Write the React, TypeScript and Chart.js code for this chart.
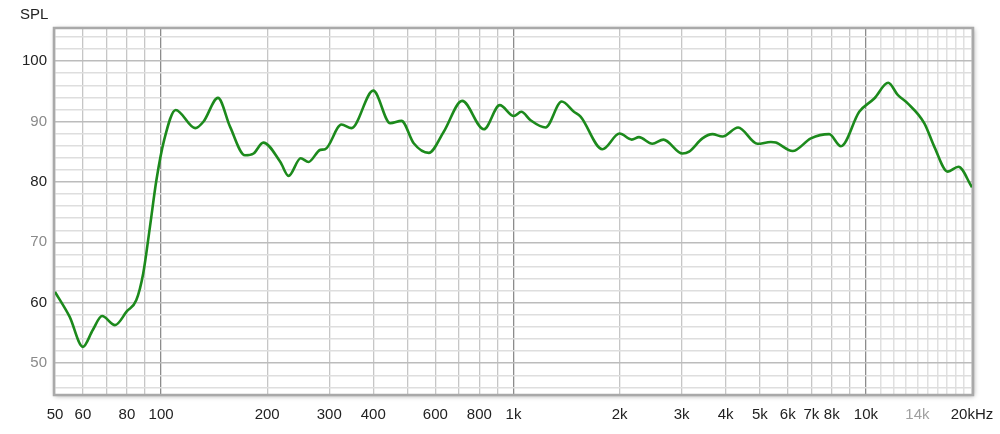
import { useRef, useEffect } from 'react';
import { Chart, registerables } from 'chart.js';

Chart.register(...registerables);

// frequency response points (Hz / dB SPL)
const freqs = [
  50, 55, 60, 64, 68, 74, 80, 85, 89, 93, 97, 102, 110, 125, 132, 145, 157,
  173, 183, 195, 218, 230, 249, 262, 283, 292, 325, 347, 400, 447, 481, 521,
  575, 634, 715, 824, 914, 1002, 1052, 1118, 1233, 1370, 1484, 1550, 1787,
  2000, 2165, 2270, 2477, 2663, 3015, 3150, 3436, 3670, 3917, 4340, 4925,
  5372, 5551, 6194, 6979, 7866, 8495, 9574, 10560, 11570, 12310, 13140,
  14650, 15640, 17070, 18300, 20000,
];
const spl = [
  61.8, 57.7, 52.7, 55.5, 57.8, 56.3, 58.6, 60.4, 64.9, 72.6, 80.3, 86.9,
  91.9, 88.9, 90.0, 93.9, 89.1, 84.4, 84.7, 86.5, 83.3, 81.0, 83.9, 83.3,
  85.3, 85.4, 89.5, 88.9, 95.1, 89.7, 90.1, 86.4, 84.8, 88.3, 93.4, 88.7,
  92.7, 90.9, 91.6, 90.2, 89.0, 93.3, 91.6, 90.8, 85.4, 88.0, 87.0, 87.4,
  86.3, 87.0, 84.7, 85.0, 87.2, 87.9, 87.5, 89.0, 86.3, 86.6, 86.5, 85.1,
  87.2, 87.9, 85.9, 91.6, 93.8, 96.4, 94.4, 93.0, 89.7, 85.8, 81.7, 82.5,
  79.1,
];

// grid lines on the frequency axis
const xGrid = [
  50, 60, 70, 80, 90, 100, 200, 300, 400, 500, 600, 700, 800, 900, 1000,
  2000, 3000, 4000, 5000, 6000, 7000, 8000, 9000, 10000, 11000, 12000,
  13000, 14000, 15000, 16000, 17000, 18000, 19000, 20000,
];
const xLabels: Record<number, string> = {
  50: '50', 60: '60', 80: '80', 100: '100', 200: '200', 300: '300',
  400: '400', 600: '600', 800: '800', 1000: '1k', 2000: '2k', 3000: '3k',
  4000: '4k', 5000: '5k', 6000: '6k', 7000: '7k', 8000: '8k', 10000: '10k',
  14000: '14k', 20000: '20kHz',
};
const yGrid = [
  46, 48, 50, 52, 54, 56, 58, 60, 62, 64, 66, 68, 70, 72, 74, 76, 78, 80, 82,
  84, 86, 88, 90, 92, 94, 96, 98, 100, 102, 104,
];
const yLabels = [50, 60, 70, 80, 90, 100];

const FONT = "'Liberation Sans', Arial, sans-serif";

const framePlugin = {
  id: 'frame',
  beforeDraw(chart: any) {
    const { ctx, chartArea: a } = chart;
    ctx.save();
    ctx.shadowColor = 'rgba(0,0,0,0.35)';
    ctx.shadowBlur = 5;
    ctx.shadowOffsetX = 1;
    ctx.shadowOffsetY = 1;
    ctx.fillStyle = '#fff';
    ctx.fillRect(a.left - 1, a.top - 1, a.right - a.left + 2, a.bottom - a.top + 2);
    ctx.restore();
    ctx.save();
    ctx.fillStyle = '#222';
    ctx.font = `15px ${FONT}`;
    ctx.textBaseline = 'alphabetic';
    ctx.fillText('SPL', 20, 19);
    ctx.restore();
  },
  beforeDatasetsDraw(chart: any) {
    const { ctx, chartArea: a } = chart;
    ctx.save();
    ctx.strokeStyle = '#a9a9a9';
    ctx.lineWidth = 2.5;
    ctx.strokeRect(a.left - 1, a.top - 1, a.right - a.left + 2, a.bottom - a.top + 2);
    ctx.restore();
  },
};

const App = () => {
  const canvasRef = useRef<HTMLCanvasElement | null>(null);

  useEffect(() => {
    if (!canvasRef.current) return;
    const ctx = canvasRef.current.getContext('2d');
    if (!ctx) return;

    const chart = new Chart(ctx, {
      type: 'line',
      data: {
        datasets: [
          {
            data: freqs.map((f, i) => ({ x: f, y: spl[i] })),
            borderColor: '#1c8a1c',
            borderWidth: 2.6,
            pointRadius: 0,
            fill: false,
            cubicInterpolationMode: 'monotone',
          },
        ],
      },
      options: {
        animation: false,
        responsive: true,
        maintainAspectRatio: false,
        layout: { padding: { left: 0, right: 28, top: 29, bottom: 0 } },
        plugins: {
          legend: { display: false },
          tooltip: { enabled: false },
        },
        scales: {
          x: {
            type: 'logarithmic',
            min: 50,
            max: 20000,
            afterBuildTicks: (scale: any) => {
              scale.ticks = xGrid.map((v) => ({ value: v }));
            },
            afterFit: (scale: any) => {
              scale.height = 40;
              scale.paddingLeft = 0;
              scale.paddingRight = 0;
            },
            border: { display: false },
            grid: {
              drawTicks: false,
              lineWidth: (c: any) => (c.tick?.value > 10000 ? 1.5 : 1.3),
              color: (c: any) => {
                const v = c.tick?.value;
                if (v === 100 || v === 1000 || v === 10000) return '#8c8c8c';
                if (v > 10000) return '#e0e0e0';
                return '#c6c6c6';
              },
            },
            ticks: {
              autoSkip: false,
              maxRotation: 0,
              padding: 12,
              font: { family: FONT, size: 15 },
              color: (c: any) => (c.tick?.value === 14000 ? '#a0a0a0' : '#222'),
              callback: (v: any) => xLabels[Number(v)] ?? '',
            },
          },
          y: {
            type: 'linear',
            min: 44.9,
            max: 105.3,
            afterBuildTicks: (scale: any) => {
              scale.ticks = yGrid.map((v) => ({ value: v }));
            },
            afterFit: (scale: any) => {
              scale.width = 55;
              scale.paddingTop = 0;
              scale.paddingBottom = 0;
            },
            border: { display: false },
            grid: {
              drawTicks: false,
              lineWidth: 1.4,
              color: (c: any) => (c.tick?.value % 10 === 0 ? '#bcbcbc' : '#dedede'),
            },
            ticks: {
              autoSkip: false,
              padding: 8,
              font: { family: FONT, size: 15 },
              color: (c: any) => (c.tick?.value % 20 === 0 ? '#222' : '#8a8a8a'),
              callback: (v: any) => (yLabels.includes(Number(v)) ? String(v) : ''),
            },
          },
        },
      },
      plugins: [framePlugin],
    });

    return () => {
      chart.destroy();
    };
  }, []);

  return (
    <div style={{ position: 'fixed', left: 0, top: 0, width: 1000, height: 434, background: '#fff' }}>
      <canvas ref={canvasRef} />
    </div>
  );
};

export default App;
